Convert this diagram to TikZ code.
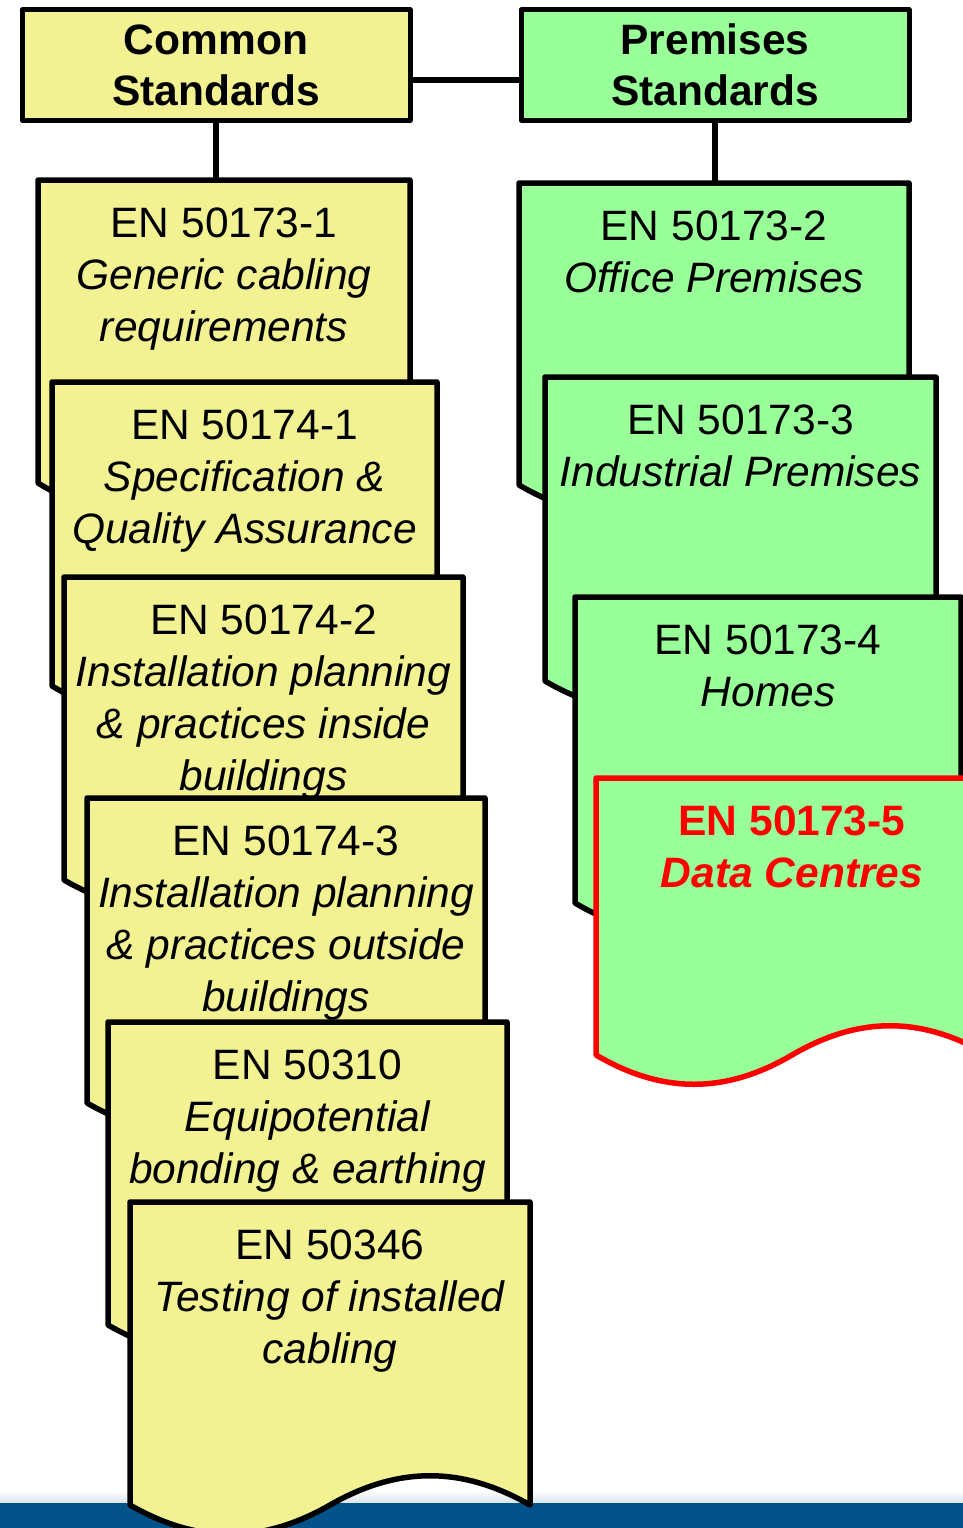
\documentclass[tikz,border=0pt]{standalone}
\usepackage{fontspec}
\setmainfont{Liberation Sans}
\usepackage{xcolor}
\definecolor{commoncol}{HTML}{F2F293}
\definecolor{premisescol}{HTML}{99FF99}
\definecolor{datacol}{HTML}{FF0000}
\definecolor{barcol}{HTML}{03528A}

% sheet outline with wavy foot: x, y, width, height, style
\newcommand{\sheetpath}[5]{%
  \draw[sheet,#5] (#1,#2) -- ++(#3,0) -- ++(0,#4)
    .. controls +({-0.17*#3},-39) and +({0.17*#3},-39) .. ++({-0.5*#3},0)
    .. controls +({-0.17*#3},39) and +({0.17*#3},39) .. ++({-0.5*#3},0) -- cycle;}

\begin{document}
\begin{tikzpicture}[x=1pt, y=-1pt,
  every node/.style={font=\fontsize{42.5}{52}\selectfont},
  head/.style={draw, line width=5pt, line join=round, minimum width=388pt, minimum height=110pt, align=center, font=\fontsize{42.5}{51}\selectfont\bfseries},
  sheet/.style={draw, line width=5.5pt, line join=round},
  sheettext/.style={anchor=north, inner xsep=0pt, inner ysep=27.5pt, align=center},
  link/.style={line width=6pt}]
\useasboundingbox (0,0) rectangle (963,1528);
\clip (0,0) rectangle (963,1528);

% bottom bar
\shade[top color=white, bottom color=barcol!15] (0,1490) rectangle (963,1503);
\fill[barcol] (0,1503) rectangle (963,1528);

% headers
\node[head, fill=commoncol] (common) at (216,65) {Common\\Standards};
\node[head, fill=premisescol] (premises) at (715,65) {Premises\\Standards};

% common standards
\sheetpath{38}{180}{372}{303}{fill=commoncol}
\node[sheettext] (en50173-1) at (224,180) {EN 50173-1\\\textit{Generic cabling}\\\textit{requirements}};
\sheetpath{52}{382}{385}{304}{fill=commoncol}
\node[sheettext] (en50174-1) at (244.5,382) {EN 50174-1\\\textit{Specification \&}\\\textit{Quality Assurance}};
\sheetpath{64}{577}{399}{303}{fill=commoncol}
\node[sheettext] (en50174-2) at (263.5,577) {EN 50174-2\\\textit{Installation planning}\\\textit{\& practices inside}\\\textit{buildings}};
\sheetpath{87}{798}{398}{305}{fill=commoncol}
\node[sheettext] (en50174-3) at (286,798) {EN 50174-3\\\textit{Installation planning}\\\textit{\& practices outside}\\\textit{buildings}};
\sheetpath{108}{1022}{399}{303}{fill=commoncol}
\node[sheettext] (en50310) at (307.5,1022) {EN 50310\\\textit{Equipotential}\\\textit{bonding \& earthing}};
\sheetpath{130}{1202}{400}{303}{fill=commoncol}
\node[sheettext] (en50346) at (330,1202) {EN 50346\\\textit{Testing of installed}\\\textit{cabling}};

% premises standards
\sheetpath{519}{183}{390}{302}{fill=premisescol}
\node[sheettext] (en50173-2) at (714,183) {EN 50173-2\\\textit{Office Premises}};
\sheetpath{545}{377}{391}{304}{fill=premisescol}
\node[sheettext] (en50173-3) at (740.5,377) {EN 50173-3\\\textit{Industrial Premises}};
\sheetpath{575}{597}{386}{306}{fill=premisescol}
\node[sheettext] (en50173-4) at (768,597) {EN 50173-4\\\textit{Homes}};
\sheetpath{596}{778}{392}{277}{fill=premisescol, draw=datacol}
\node[sheettext, text=datacol, font=\fontsize{42.5}{52}\selectfont\bfseries] (en50173-5) at (792,778) {EN 50173-5\\\textit{Data Centres}};

% connectors
\draw[link] ([yshift=-15pt]common.east) -- ([yshift=-15pt]premises.west);
\draw[link] (common.south) -- (common.south |- en50173-1.north);
\draw[link] (premises.south) -- (premises.south |- en50173-2.north);
\end{tikzpicture}
\end{document}
